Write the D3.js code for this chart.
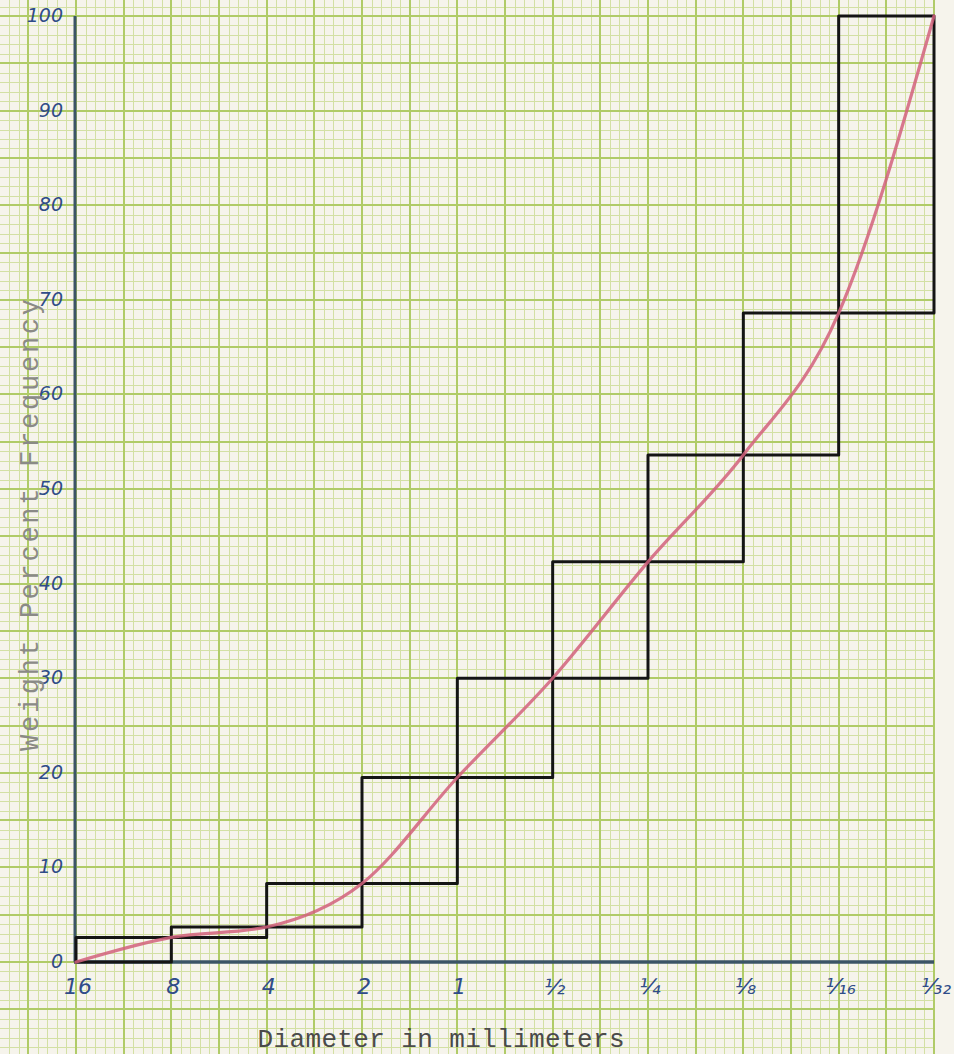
<!DOCTYPE html>
<html>
<head>
<meta charset="utf-8">
<script src="https://cdn.jsdelivr.net/npm/d3@7"></script>
<style>
  html, body { margin: 0; padding: 0; background: #f6f4ec; }
  svg { display: block; }
</style>
</head>
<body>
<svg id="chart" width="954" height="1054"></svg>
<script>
// ---- data ----
const diameters = ["16", "8", "4", "2", "1", "½", "¼", "⅛", "¹⁄₁₆", "¹⁄₃₂"];
const cumulative = [0, 2.6, 3.7, 8.3, 19.5, 30.0, 42.3, 53.6, 68.6, 100];
const yTicks = [0, 10, 20, 30, 40, 50, 60, 70, 80, 90, 100];
const yTickLabels = ["0", "10", "20", "30", "40", "50", "60", "70", "80", "90", "100"];
const xTitle = "Diameter in millimeters";
const yTitle = "Weight Percent Frequency";

const W = 954, H = 1054;
const svg = d3.select("#chart");

const x = d3.scaleLinear().domain([0, diameters.length - 1]).range([76, 934]);
const y = d3.scaleLinear().domain([0, 100]).range([962, 16]);

// ---- graph paper ----
const snap = v => Math.round(v) + 0.5;
const grid = svg.append("g").attr("shape-rendering", "crispEdges");
const gridRight = x(9) + 1;
const xMinor = d3.range(Math.ceil(x.invert(0) * 10), 91).map(d => d / 10);
const yMinor = d3.range(Math.ceil(y.invert(H)), Math.floor(y.invert(0)) + 1);
const isMajX = d => Math.round(d * 10) % 5 === 0;
const isMajY = d => d % 5 === 0;
grid.selectAll("line.vx").data(xMinor.filter(d => !isMajX(d))).join("line")
  .attr("x1", d => snap(x(d))).attr("x2", d => snap(x(d)))
  .attr("y1", 0).attr("y2", H)
  .attr("stroke", "#d3e0a4").attr("stroke-width", 1);
grid.selectAll("line.hy").data(yMinor.filter(d => !isMajY(d))).join("line")
  .attr("x1", 0).attr("x2", gridRight)
  .attr("y1", d => snap(y(d))).attr("y2", d => snap(y(d)))
  .attr("stroke", "#d3e0a4").attr("stroke-width", 1);
grid.selectAll("line.vxm").data(xMinor.filter(isMajX)).join("line")
  .attr("x1", d => Math.round(x(d))).attr("x2", d => Math.round(x(d)))
  .attr("y1", 0).attr("y2", H)
  .attr("stroke", "#b0cb68").attr("stroke-width", 2);
grid.selectAll("line.hym").data(yMinor.filter(isMajY)).join("line")
  .attr("x1", 0).attr("x2", gridRight)
  .attr("y1", d => Math.round(y(d))).attr("y2", d => Math.round(y(d)))
  .attr("stroke", "#b0cb68").attr("stroke-width", 2);

// ---- axes ----
const axisColor = "#3b5466";
svg.append("line").attr("x1", x(0) - 1).attr("x2", x(0) - 1)
  .attr("y1", y(100)).attr("y2", y(0))
  .attr("stroke", axisColor).attr("stroke-width", 3);
svg.append("line").attr("x1", x(0) - 2).attr("x2", x(9))
  .attr("y1", y(0)).attr("y2", y(0))
  .attr("stroke", axisColor).attr("stroke-width", 3.5);

// ---- step boxes ----
const boxes = svg.append("g").attr("fill", "none").attr("stroke", "#141414")
  .attr("stroke-width", 3).attr("stroke-linejoin", "round");
for (let i = 1; i < cumulative.length; i++) {
  boxes.append("rect")
    .attr("x", x(i - 1)).attr("y", y(cumulative[i]))
    .attr("width", x(i) - x(i - 1))
    .attr("height", y(cumulative[i - 1]) - y(cumulative[i]));
}

// ---- cumulative curve ----
const line = d3.line().x((d, i) => x(i)).y(d => y(d)).curve(d3.curveMonotoneX);
svg.append("path").datum(cumulative)
  .attr("d", line)
  .attr("fill", "none")
  .attr("stroke", "#d2607c")
  .attr("stroke-opacity", 0.85)
  .attr("stroke-width", 3.2)
  .attr("stroke-linecap", "round");

// ---- tick labels ----
const ink = "#2f4c88";
svg.append("g").selectAll("text").data(yTicks).join("text")
  .attr("x", 63).attr("y", d => y(d) + 6)
  .attr("text-anchor", "end")
  .attr("font-family", "'DejaVu Sans', sans-serif")
  .attr("font-style", "italic")
  .attr("font-size", 19)
  .attr("fill", ink)
  .text((d, i) => yTickLabels[i]);

svg.append("g").selectAll("text").data(diameters).join("text")
  .attr("x", (d, i) => x(i) + 2).attr("y", 994)
  .attr("text-anchor", "middle")
  .attr("font-family", "'DejaVu Sans', sans-serif")
  .attr("font-style", "italic")
  .attr("font-size", 22)
  .attr("fill", ink)
  .text(d => d);

// ---- titles ----
svg.append("text")
  .attr("x", 441).attr("y", 1047)
  .attr("text-anchor", "middle")
  .attr("font-family", "'Liberation Mono', 'DejaVu Sans Mono', monospace")
  .attr("font-size", 26)
  .attr("fill", "#4a4a4a")
  .attr("textLength", 367).attr("lengthAdjust", "spacing")
  .text(xTitle);

svg.append("text")
  .attr("transform", "translate(38,525) rotate(-90)")
  .attr("text-anchor", "middle")
  .attr("font-family", "'Liberation Mono', 'DejaVu Sans Mono', monospace")
  .attr("font-size", 27)
  .attr("fill", "#8a8a86")
  .attr("textLength", 452).attr("lengthAdjust", "spacing")
  .text(yTitle);
</script>
</body>
</html>
